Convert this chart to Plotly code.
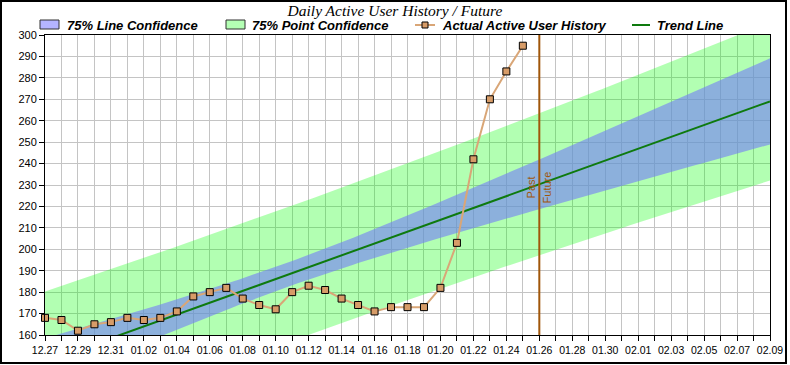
import numpy as np
import pandas as pd
import plotly.graph_objects as go

# ---------------- data ----------------
start_date = "2023-12-27"
end_date = "2024-02-09"
divider_date = "2024-01-26"
history_dates = pd.date_range(start_date, periods=30, freq="D")
active_users = [168, 167, 162, 165, 166, 168, 167, 168, 171, 178,
                180, 182, 177, 174, 172, 180, 183, 181, 177, 174,
                171, 173, 173, 173, 182, 203, 242, 270, 283, 295]
confidence_t = 1.175  # two-sided 75% t value, 28 degrees of freedom

title_text = "Daily Active User History / Future"
legend_names = ["75% Line Confidence", "75% Point Confidence",
                "Actual Active User History", "Trend Line"]

# ---------------- linear trend and confidence bands from the data ----------------
y = np.array(active_users, dtype=float)
xi = np.arange(len(y), dtype=float)
n = len(y)
slope, intercept = np.polyfit(xi, y, 1)
resid = y - (slope * xi + intercept)
s = np.sqrt(np.sum(resid ** 2) / (n - 2))
sxx = np.sum((xi - xi.mean()) ** 2)

all_dates = pd.date_range(start_date, end_date, freq="6h")
xa = (all_dates - pd.Timestamp(start_date)) / pd.Timedelta(days=1)
xa = np.asarray(xa, dtype=float)
trend = slope * xa + intercept
line_hw = confidence_t * s * np.sqrt(1 / n + (xa - xi.mean()) ** 2 / sxx)
point_hw = confidence_t * s * np.sqrt(1 + 1 / n + (xa - xi.mean()) ** 2 / sxx)

GREEN_FILL = "rgba(0,255,0,0.30)"
BLUE_FILL = "rgba(115,123,248,0.60)"
TREND_COLOR = "#0E7A0E"
DATA_LINE = "#D9A677"
MARKER_FILL = "#D79C68"
DIVIDER = "#A0560A"
GRID = "#C4C4C4"

fig = go.Figure()
fig.add_trace(go.Scatter(x=all_dates, y=trend - point_hw, mode="lines",
                         line=dict(width=0), showlegend=False, hoverinfo="skip"))
fig.add_trace(go.Scatter(x=all_dates, y=trend + point_hw, mode="lines",
                         line=dict(width=0), fill="tonexty", fillcolor=GREEN_FILL,
                         name=legend_names[1], showlegend=False))
fig.add_trace(go.Scatter(x=all_dates, y=trend - line_hw, mode="lines",
                         line=dict(width=0), showlegend=False, hoverinfo="skip"))
fig.add_trace(go.Scatter(x=all_dates, y=trend + line_hw, mode="lines",
                         line=dict(width=0), fill="tonexty", fillcolor=BLUE_FILL,
                         name=legend_names[0], showlegend=False))
fig.add_trace(go.Scatter(x=all_dates, y=trend, mode="lines",
                         line=dict(color=TREND_COLOR, width=2),
                         name=legend_names[3], showlegend=False))
fig.add_trace(go.Scatter(x=history_dates, y=active_users, mode="lines+markers",
                         line=dict(color=DATA_LINE, width=2),
                         marker=dict(symbol="square", size=7, color=MARKER_FILL,
                                     line=dict(color="black", width=1)),
                         cliponaxis=False,
                         name=legend_names[2], showlegend=False))

# divider between past and future
fig.add_shape(type="line", xref="x", yref="paper", x0=divider_date, x1=divider_date,
              y0=0, y1=1, line=dict(color=DIVIDER, width=2))
fig.add_annotation(x=divider_date, y=229, xref="x", yref="y", text="Past",
                   textangle=-90, showarrow=False, xshift=-8,
                   font=dict(family="Liberation Sans", size=11, color=DIVIDER))
fig.add_annotation(x=divider_date, y=229, xref="x", yref="y", text="Future",
                   textangle=-90, showarrow=False, xshift=8,
                   font=dict(family="Liberation Sans", size=11, color=DIVIDER))

# ---------------- legend drawn in the header ----------------
L, T, W, H = 45, 35, 725, 300
def px(xp):
    return (xp - L) / W
def py(yp):
    return (T + H - yp) / H

legend_font = dict(family="Liberation Sans", size=13, color="black",
                   weight="bold", style="italic")
fig.add_shape(type="rect", xref="paper", yref="paper", x0=px(40), x1=px(59),
              y0=py(29), y1=py(20), fillcolor="#B4B4FF", line=dict(color="#303030", width=1))
fig.add_shape(type="rect", xref="paper", yref="paper", x0=px(226), x1=px(245),
              y0=py(29), y1=py(20), fillcolor="#B4FFB4", line=dict(color="#303030", width=1))
fig.add_shape(type="line", xref="paper", yref="paper", x0=px(415), x1=px(435),
              y0=py(25), y1=py(25), line=dict(color=DATA_LINE, width=2))
fig.add_shape(type="rect", xref="paper", yref="paper", x0=px(422), x1=px(428),
              y0=py(28), y1=py(22), fillcolor=MARKER_FILL, line=dict(color="black", width=1))
fig.add_shape(type="line", xref="paper", yref="paper", x0=px(632), x1=px(650),
              y0=py(25), y1=py(25), line=dict(color=TREND_COLOR, width=2))
for xpos, name in zip([65, 250, 440, 655], legend_names):
    fig.add_annotation(x=px(xpos), y=py(25.5), xref="paper", yref="paper", text=name,
                       showarrow=False, xanchor="left", yanchor="middle",
                       font=legend_font)

# outer frame
fig.add_shape(type="rect", xref="paper", yref="paper", x0=px(1), x1=px(786),
              y0=py(363), y1=py(1), line=dict(color="black", width=2),
              fillcolor="rgba(0,0,0,0)")

fig.update_layout(
    width=790, height=365,
    margin=dict(l=L, r=790 - L - W, t=T, b=365 - T - H, autoexpand=False),
    paper_bgcolor="white", plot_bgcolor="white",
    showlegend=False,
    title=dict(text=title_text, x=0.5, xanchor="center", xref="container",
               y=1 - 10.5 / 365, yref="container", yanchor="middle",
               font=dict(family="Liberation Serif", size=15.5, color="black",
                         style="italic")),
    xaxis=dict(type="date", range=[start_date, end_date],
               tick0=start_date, dtick=2 * 86400000, tickformat="%m.%d",
               ticks="outside", ticklen=5, tickcolor="black", tickwidth=1,
               showgrid=True, gridcolor=GRID, gridwidth=1,
               showline=True, linecolor="black", linewidth=1, mirror=True,
               tickfont=dict(family="Liberation Sans", size=10.5, color="black"),
               minor=dict(dtick=86400000, tick0=start_date, ticks="outside",
                          ticklen=5, tickcolor="black", showgrid=True,
                          gridcolor=GRID, gridwidth=1),
               zeroline=False),
    yaxis=dict(range=[160, 300], dtick=10, tick0=160,
               ticks="outside", ticklen=5, tickcolor="black",
               showgrid=True, gridcolor=GRID, gridwidth=1,
               showline=True, linecolor="black", linewidth=1, mirror=True,
               tickfont=dict(family="Liberation Sans", size=11, color="black"),
               zeroline=False),
)

fig.write_html("out.html", config={"displayModeBar": False},
               post_script="document.body.style.margin='0';document.body.style.overflow='hidden';")
